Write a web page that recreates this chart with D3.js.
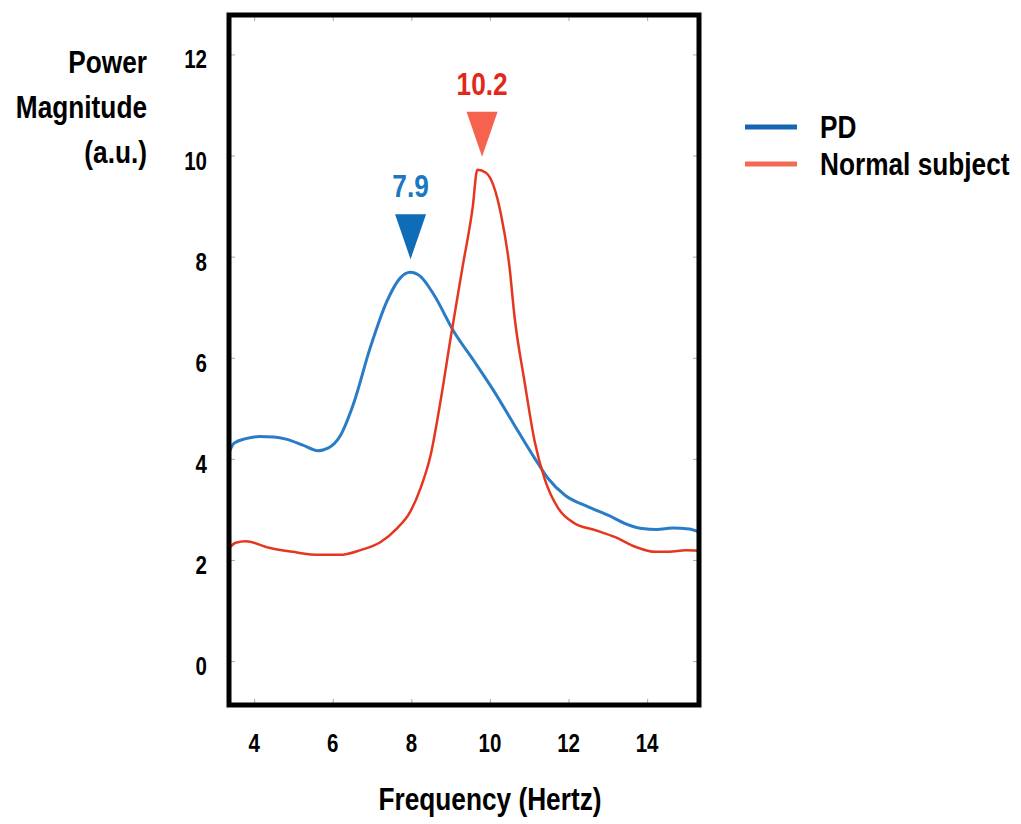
<!DOCTYPE html>
<html>
<head>
<meta charset="utf-8">
<script src="https://cdn.jsdelivr.net/npm/d3@7"></script>
<style>
  html, body { margin: 0; padding: 0; background: #fff; }
  svg { display: block; }
  text { font-family: "Liberation Sans", Arial, sans-serif; font-weight: bold; }
</style>
</head>
<body>
<svg id="chart" width="1021" height="824"></svg>
<script>
// Power spectrum: frequency (Hz) vs power magnitude (a.u.)
const pdSpectrum = [
  [3.32, 4.04], [3.49, 4.31], [3.79, 4.40], [4.13, 4.44], [4.50, 4.43], [4.81, 4.39],
  [5.24, 4.27], [5.62, 4.16], [5.88, 4.21], [6.18, 4.44], [6.52, 5.07], [6.95, 6.19],
  [7.38, 7.12], [7.72, 7.58], [7.97, 7.69], [8.23, 7.61], [8.57, 7.25], [9.08, 6.52],
  [9.60, 5.93], [10.11, 5.33], [10.62, 4.67], [11.14, 4.01], [11.48, 3.61], [11.91, 3.28],
  [12.50, 3.05], [13.02, 2.88], [13.44, 2.72], [13.87, 2.62], [14.25, 2.60], [14.64, 2.63],
  [15.07, 2.61], [15.33, 2.55]
];
const normalSpectrum = [
  [3.32, 2.19], [3.53, 2.34], [3.79, 2.37], [4.38, 2.24], [4.98, 2.16], [5.67, 2.10],
  [6.18, 2.10], [6.69, 2.19], [7.21, 2.35], [7.63, 2.62], [7.97, 2.95], [8.23, 3.41],
  [8.49, 4.07], [8.74, 5.13], [9.00, 6.39], [9.30, 7.78], [9.56, 8.97], [9.68, 9.72],
  [9.90, 9.66], [10.28, 8.84], [10.50, 7.78], [10.62, 6.85], [10.88, 5.53], [11.14, 4.34],
  [11.39, 3.61], [11.74, 3.02], [12.16, 2.72], [12.68, 2.59], [13.19, 2.45], [13.70, 2.26],
  [14.21, 2.16], [14.56, 2.16], [14.98, 2.19], [15.33, 2.18]
];
const seriesNames = ["PD", "Normal subject"];
const peakLabels = ["7.9", "10.2"];
const peakMarkerFreq = [7.98, 9.80];
const xTicks = [4, 6, 8, 10, 12, 14];
const yTicks = [0, 2, 4, 6, 8, 10, 12];
const yTitleLines = ["Power", "Magnitude", "(a.u.)"];
const xTitle = "Frequency (Hertz)";

const lineColors = ["#2b7cc6", "#e5371f"];
const markerColors = ["#0f6cb6", "#f5634e"];
const labelColors = ["#1a78c2", "#e2281b"];
const legendColors = ["#1565b0", "#f26a55"];
const SQ = 0.82; // horizontal squeeze for the condensed lettering

const svg = d3.select("#chart");
const plotL = 229, plotR = 699, plotT = 15, plotB = 705;

const x = d3.scaleLinear().domain([3.36, 15.32]).range([plotL, plotR]);
const y = d3.scaleLinear().domain([-0.87, 12.78]).range([plotB, plotT]);

function label(g, str, px, py, size, anchor, fill) {
  return g.append("text")
    .attr("transform", `translate(${px},${py}) scale(${SQ},1)`)
    .attr("text-anchor", anchor)
    .attr("font-size", size)
    .attr("fill", fill || "#000")
    .text(str);
}

// clip for the curves
svg.append("clipPath").attr("id", "plotClip")
  .append("rect").attr("x", plotL).attr("y", plotT)
  .attr("width", plotR - plotL).attr("height", plotB - plotT);

// inner tick marks on all four sides
const tickG = svg.append("g");
tickG.append("g").attr("transform", `translate(0,${plotB})`)
  .call(d3.axisTop(x).tickValues(xTicks).tickSize(6).tickFormat(""));
tickG.append("g").attr("transform", `translate(0,${plotT})`)
  .call(d3.axisBottom(x).tickValues(xTicks).tickSize(6).tickFormat(""));
tickG.append("g").attr("transform", `translate(${plotL},0)`)
  .call(d3.axisRight(y).tickValues(yTicks).tickSize(6).tickFormat(""));
tickG.append("g").attr("transform", `translate(${plotR},0)`)
  .call(d3.axisLeft(y).tickValues(yTicks).tickSize(6).tickFormat(""));
tickG.selectAll(".domain").remove();
tickG.selectAll("line").attr("stroke", "#aaa").attr("stroke-width", 1);

// tick labels
const tl = svg.append("g");
xTicks.forEach(v => label(tl, String(v), x(v), 752, 25, "middle"));
yTicks.forEach(v => label(tl, String(v), 207, y(v) + 14, 25, "end"));

// curves
const line = d3.line().x(d => x(d[0])).y(d => y(d[1])).curve(d3.curveMonotoneX);
const curves = svg.append("g").attr("clip-path", "url(#plotClip)");
curves.append("path").datum(pdSpectrum)
  .attr("fill", "none").attr("stroke", lineColors[0]).attr("stroke-width", 3)
  .attr("stroke-linejoin", "round").attr("d", line);
curves.append("path").datum(normalSpectrum)
  .attr("fill", "none").attr("stroke", lineColors[1]).attr("stroke-width", 2.5)
  .attr("stroke-linejoin", "round").attr("d", line);

// frame
svg.append("rect").attr("x", plotL).attr("y", plotT)
  .attr("width", plotR - plotL).attr("height", plotB - plotT)
  .attr("fill", "none").attr("stroke", "#000").attr("stroke-width", 5);

// peak markers and their labels
[pdSpectrum, normalSpectrum].forEach((s, i) => {
  const peak = d3.max(s, d => d[1]);
  const cx = x(peakMarkerFreq[i]);
  const tipY = y(peak) - 13;
  const w = 31, h = 45;
  svg.append("path")
    .attr("d", `M${cx - w / 2},${tipY - h}L${cx + w / 2},${tipY - h}L${cx},${tipY}Z`)
    .attr("fill", markerColors[i]);
  label(svg, peakLabels[i], cx, tipY - h - 17, 32, "middle", labelColors[i]);
});

// axis titles
const yt = svg.append("g");
yTitleLines.forEach((t, i) => label(yt, t, 147, 73 + i * 45, 32, "end"));
label(svg, xTitle, 490, 810, 32, "middle");

// legend
const lg = svg.append("g");
seriesNames.forEach((n, i) => {
  const ly = 127 + i * 37;
  lg.append("line").attr("x1", 745).attr("x2", 797).attr("y1", ly).attr("y2", ly)
    .attr("stroke", legendColors[i]).attr("stroke-width", 5);
  label(lg, n, 820, ly + 11, 32, "start");
});
</script>
</body>
</html>
